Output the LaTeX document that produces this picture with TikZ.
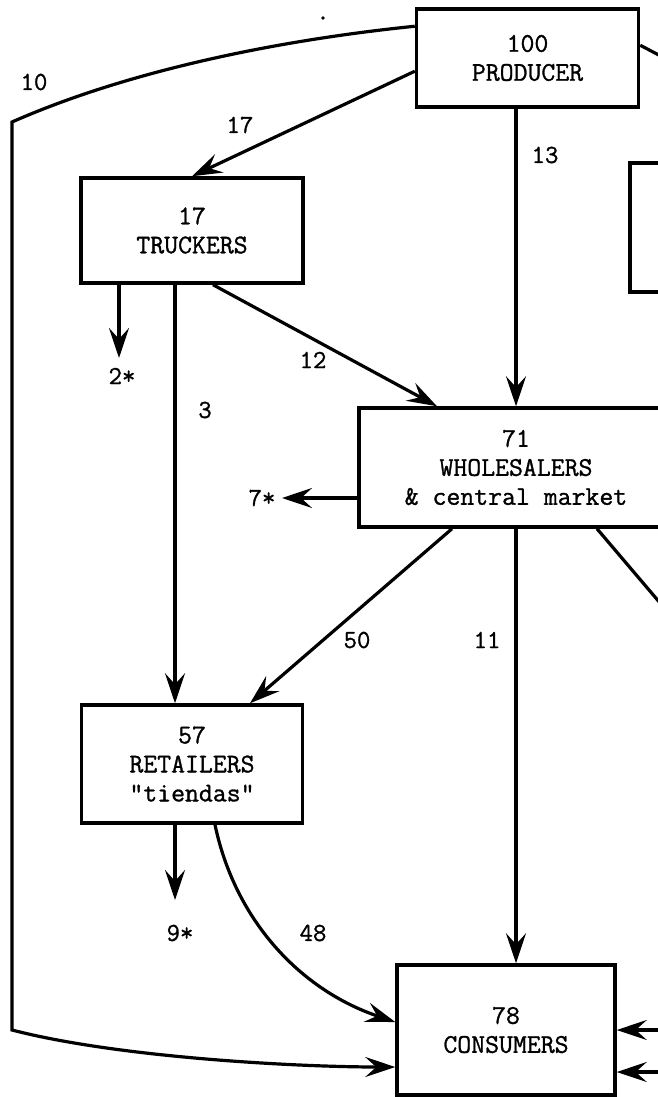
\documentclass[tikz,border=0pt]{standalone}
\usepackage{fontspec}
\newfontfamily\tw[FakeBold=1.1]{Latin Modern Mono}
\usetikzlibrary{arrows.meta,calc}
\begin{document}
\begin{tikzpicture}[x=1pt,y=-1pt,
  box/.style={draw, line width=3.5pt, inner sep=0pt, align=center, font=\tw\fontsize{27}{29}\selectfont},
  lbl/.style={font=\tw\fontsize{26}{28}\selectfont, inner sep=0pt},
  con/.style={line width=3.2pt},
  arr/.style={con, -{Stealth[length=30pt,width=20pt,inset=11pt]}}]
\useasboundingbox (0,0) rectangle (658,1097);
\clip (0,0) rectangle (658,1097);

% boxes
\node[box, minimum width=222pt, minimum height=98pt] (prod) at (527.5,58) {100\\PRODUCER};
\node[box, minimum width=222pt, minimum height=105pt] (truck) at (192,230.5) {17\\TRUCKERS};
\node[box, minimum width=314pt, minimum height=119pt] (whole) at (516,467.5) {71\\WHOLESALERS\\\& central market};
\node[box, minimum width=221pt, minimum height=118pt] (ret) at (192,764) {57\\RETAILERS\\"tiendas"};
\node[box, minimum width=218pt, minimum height=130pt] (cons) at (506,1030) {78\\CONSUMERS};
\node[box, minimum width=100pt, minimum height=129pt] (side) at (680,227.5) {};

% free ends
\coordinate (out2) at (119,358);
\coordinate (out7) at (282,498);
\coordinate (out9) at (175,900);
\coordinate (edgeW) at (672,617);
\coordinate (edgeP) at (672,62);
\coordinate (inR1) at (672,1030);
\coordinate (inR2) at (672,1072);
\coordinate (corner1) at (12,122);
\coordinate (corner2) at (12,1030);

% connectors
\draw[arr] ([yshift=-19pt]prod.north west) .. controls (280,40) and (130,70) .. (corner1) -- (corner2) .. controls (120,1058) and (300,1067) .. ([yshift=-37pt]cons.west);
\draw[arr] ([yshift=-64pt]prod.north west) -- (truck.north);
\draw[arr] (prod.south -| whole.north) -- (whole.north);
\draw[con] ([yshift=-38pt]prod.north east) -- (edgeP);
\draw[arr] ([xshift=-73pt]truck.south) -- (out2);
\draw[arr] ([xshift=-17pt]truck.south) -- ([xshift=-17pt]ret.north);
\draw[arr] ([xshift=21pt]truck.south) -- ([xshift=-79pt]whole.north);
\draw[arr] ([yshift=-30.5pt]whole.west) -- (out7);
\draw[arr] ([xshift=-64pt]whole.south) -- ([xshift=58pt]ret.north);
\draw[arr] (whole.south) -- (whole.south |- cons.north);
\draw[con] ([xshift=81pt]whole.south) -- (edgeW);
\draw[arr] ([xshift=23pt]ret.south) .. controls (235,920) and (300,990) .. ([yshift=8pt]cons.west);
\draw[arr] ([xshift=-17pt]ret.south) -- (out9);
\draw[arr] (inR1) -- (cons.east);
\draw[arr] (inR2) -- ([yshift=-42pt]cons.east);

% speck
\fill (323,18) circle (1.8pt);

% labels
\node[lbl] (l10) at (34,82) {10};
\node[lbl] (l17) at (240,125) {17};
\node[lbl] (l13) at (545,155) {13};
\node[lbl] (l12) at (313,360) {12};
\node[lbl] (l3) at (205,410) {3};
\node[lbl] (l2s) at (122,376) {2*};
\node[lbl] (l7s) at (262,498) {7*};
\node[lbl] (l50) at (357,640) {50};
\node[lbl] (l11) at (487,640) {11};
\node[lbl] (l9s) at (180,933) {9*};
\node[lbl] (l48) at (313,933) {48};
\end{tikzpicture}
\end{document}
